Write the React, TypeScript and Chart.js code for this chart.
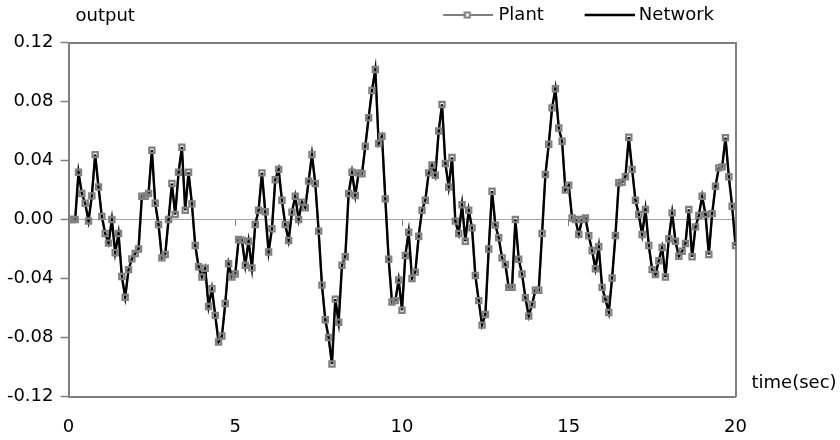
import React, { useEffect, useRef } from 'react';
import { Chart, registerables } from 'chart.js';

Chart.register(...registerables);

// ---------------- data ----------------
const timeSec = [
  0, 0.1, 0.2, 0.3, 0.4, 0.5, 0.6, 0.7, 0.8, 0.9,
  1, 1.1, 1.2, 1.3, 1.4, 1.5, 1.6, 1.7, 1.8, 1.9,
  2, 2.1, 2.2, 2.3, 2.4, 2.5, 2.6, 2.7, 2.8, 2.9,
  3, 3.1, 3.2, 3.3, 3.4, 3.5, 3.6, 3.7, 3.8, 3.9,
  4, 4.1, 4.2, 4.3, 4.4, 4.5, 4.6, 4.7, 4.8, 4.9,
  5, 5.1, 5.2, 5.3, 5.4, 5.5, 5.6, 5.7, 5.8, 5.9,
  6, 6.1, 6.2, 6.3, 6.4, 6.5, 6.6, 6.7, 6.8, 6.9,
  7, 7.1, 7.2, 7.3, 7.4, 7.5, 7.6, 7.7, 7.8, 7.9,
  8, 8.1, 8.2, 8.3, 8.4, 8.5, 8.6, 8.7, 8.8, 8.9,
  9, 9.1, 9.2, 9.3, 9.4, 9.5, 9.6, 9.7, 9.8, 9.9,
  10, 10.1, 10.2, 10.3, 10.4, 10.5, 10.6, 10.7, 10.8, 10.9,
  11, 11.1, 11.2, 11.3, 11.4, 11.5, 11.6, 11.7, 11.8, 11.9,
  12, 12.1, 12.2, 12.3, 12.4, 12.5, 12.6, 12.7, 12.8, 12.9,
  13, 13.1, 13.2, 13.3, 13.4, 13.5, 13.6, 13.7, 13.8, 13.9,
  14, 14.1, 14.2, 14.3, 14.4, 14.5, 14.6, 14.7, 14.8, 14.9,
  15, 15.1, 15.2, 15.3, 15.4, 15.5, 15.6, 15.7, 15.8, 15.9,
  16, 16.1, 16.2, 16.3, 16.4, 16.5, 16.6, 16.7, 16.8, 16.9,
  17, 17.1, 17.2, 17.3, 17.4, 17.5, 17.6, 17.7, 17.8, 17.9,
  18, 18.1, 18.2, 18.3, 18.4, 18.5, 18.6, 18.7, 18.8, 18.9,
  19, 19.1, 19.2, 19.3, 19.4, 19.5, 19.6, 19.7, 19.8, 19.9,
  20,
];

const plantOutput = [
  0, 0, 0, 0.032, 0.0176, 0.011, -0.001, 0.016, 0.044, 0.022,
  0.002, -0.0095, -0.016, 0, -0.0226, -0.0095, -0.0386, -0.0527, -0.034, -0.0267,
  -0.023, -0.02, 0.0158, 0.0158, 0.0176, 0.047, 0.011, -0.0034, -0.026, -0.0237,
  0, 0.0244, 0.0034, 0.032, 0.049, 0.0063, 0.032, 0.0106, -0.0176, -0.032,
  -0.039, -0.033, -0.059, -0.047, -0.065, -0.083, -0.079, -0.057, -0.03, -0.039,
  -0.037, -0.0136, -0.014, -0.031, -0.0147, -0.0328, -0.0034, 0.0063, 0.0316, 0.0052,
  -0.022, -0.0063, 0.027, 0.034, 0.013, -0.0034, -0.0142, 0.005, 0.0158, 0,
  0.0118, 0.008, 0.026, 0.044, 0.0244, -0.0079, -0.0445, -0.068, -0.08, -0.098,
  -0.054, -0.0696, -0.031, -0.0253, 0.0176, 0.032, 0.0163, 0.0316, 0.031, 0.0497,
  0.069, 0.0875, 0.1017, 0.0515, 0.0565, 0.014, -0.027, -0.056, -0.055, -0.041,
  -0.0615, -0.0244, -0.0086, -0.04, -0.0357, -0.0113, 0.0063, 0.013, 0.0316, 0.037,
  0.03, 0.06, 0.078, 0.038, 0.022, 0.042, -0.0011, -0.0095, 0.01, -0.0147,
  0.0063, -0.0057, -0.038, -0.055, -0.0716, -0.0644, -0.02, 0.0192, -0.0038, -0.0124,
  -0.026, -0.0305, -0.046, -0.046, 0, -0.027, -0.037, -0.053, -0.0655, -0.0576,
  -0.048, -0.048, -0.0095, 0.0305, 0.051, 0.0757, 0.0886, 0.062, 0.053, 0.02,
  0.0233, 0.001, 0, -0.01, 0, 0.001, -0.011, -0.021, -0.0334, -0.0185,
  -0.046, -0.054, -0.063, -0.0396, -0.0108, 0.0249, 0.0253, 0.029, 0.0558, 0.034,
  0.013, 0.0034, -0.0102, 0.0068, -0.0176, -0.034, -0.0373, -0.028, -0.019, -0.039,
  -0.013, 0.0045, -0.0147, -0.0249, -0.0215, -0.0163, 0.0068, -0.0253, -0.005, 0.0027,
  0.0158, 0.0034, -0.0237, 0.004, 0.0226, 0.035, 0.0357, 0.0554, 0.029, 0.009,
  -0.0176,
];

// The network output tracks the plant output point for point in the picture.
const networkOutput = plantOutput;

const seriesNames = ['Plant', 'Network'];
const xTickValues = [0, 5, 10, 15, 20];
const xTickLabels = ['0', '5', '10', '15', '20'];
const yTickValues = [-0.12, -0.08, -0.04, 0, 0.04, 0.08, 0.12];
const yTickLabels = ['-0.12', '-0.08', '-0.04', '0.00', '0.04', '0.08', '0.12'];
const yAxisTitle = 'output';
const xAxisTitle = 'time(sec)';

// ---------------- styles ----------------
const FONT_FAMILY = '"DejaVu Sans", sans-serif';
const FONT_SIZE = 18;
const GRAY = '#808080';
const ZERO_GRAY = '#a6a6a6';

function makeLegendIcon(
  w: number,
  h: number,
  lineFrom: number,
  lineTo: number,
  color: string,
  lineWidth: number,
  markerAt: number | null
): HTMLCanvasElement {
  const c = document.createElement('canvas');
  c.width = w;
  c.height = h;
  const g = c.getContext('2d')!;
  g.strokeStyle = color;
  g.lineWidth = lineWidth;
  g.beginPath();
  g.moveTo(lineFrom, h / 2);
  g.lineTo(lineTo, h / 2);
  g.stroke();
  if (markerAt !== null) {
    g.lineWidth = 2;
    g.clearRect(markerAt - 1.5, h / 2 - 1.5, 3, 3);
    g.strokeRect(markerAt - 2.55, h / 2 - 2.55, 5.1, 5.1);
  }
  return c;
}

const captionPlugin = {
  id: 'captions',
  afterDraw(chart: any) {
    const { ctx, chartArea } = chart;
    ctx.save();
    ctx.font = `${FONT_SIZE}px ${FONT_FAMILY}`;
    ctx.fillStyle = '#000';
    ctx.textAlign = 'left';
    ctx.textBaseline = 'alphabetic';
    ctx.fillText(yAxisTitle, chartArea.left + 7, 21);
    ctx.fillText(xAxisTitle, chartArea.right + 16, 388);
    ctx.restore();
  },
};

export default function App() {
  const canvasRef = useRef<HTMLCanvasElement>(null);

  useEffect(() => {
    const canvas = canvasRef.current;
    if (!canvas) return;

    const plantIcon = makeLegendIcon(72, 12, 22, 72, GRAY, 2, 46);
    const networkIcon = makeLegendIcon(74, 12, 24, 74, '#000', 2.4, null);
    const font = { family: FONT_FAMILY, size: FONT_SIZE };

    const chart = new Chart(canvas, {
      type: 'line',
      data: {
        labels: timeSec,
        datasets: [
          {
            label: seriesNames[0],
            data: plantOutput,
            borderColor: GRAY,
            borderWidth: 2,
            pointRadius: 0,
            tension: 0,
            order: 3,
            xAxisID: 'x',
            yAxisID: 'y',
          },
          {
            label: seriesNames[1],
            data: networkOutput,
            borderColor: '#000',
            borderWidth: 2.4,
            pointRadius: 0,
            tension: 0,
            order: 2,
            xAxisID: 'x',
            yAxisID: 'y',
          },
          {
            label: seriesNames[0] + ' markers',
            data: plantOutput,
            showLine: false,
            pointStyle: 'rect',
            pointRadius: 3.7,
            pointBorderWidth: 2.2,
            pointBorderColor: GRAY,
            pointBackgroundColor: 'rgba(0,0,0,0)',
            order: 1,
            xAxisID: 'x',
            yAxisID: 'y',
          },
        ],
      },
      options: {
        responsive: false,
        animation: false,
        devicePixelRatio: 1,
        events: [],
        layout: { padding: { top: -15.5, left: 0, right: 0, bottom: 0 } },
        plugins: {
          tooltip: { enabled: false },
          title: { display: false },
          legend: {
            display: true,
            position: 'top',
            align: 'end',
            fullSize: false,
            labels: {
              usePointStyle: true,
              pointStyleWidth: 64.5,
              padding: 21.5,
              font,
              color: '#000',
              generateLabels: () => [
                {
                  text: seriesNames[0],
                  pointStyle: plantIcon,
                  fillStyle: 'rgba(0,0,0,0)',
                  strokeStyle: 'rgba(0,0,0,0)',
                  fontColor: '#000',
                  lineWidth: 0,
                  hidden: false,
                  datasetIndex: 0,
                },
                {
                  text: seriesNames[1],
                  pointStyle: networkIcon,
                  fillStyle: 'rgba(0,0,0,0)',
                  strokeStyle: 'rgba(0,0,0,0)',
                  fontColor: '#000',
                  lineWidth: 0,
                  hidden: false,
                  datasetIndex: 1,
                },
              ],
            },
          },
        },
        scales: {
          x: {
            type: 'linear',
            position: 'bottom',
            min: 0,
            max: 20,
            afterBuildTicks: (s: any) => {
              s.ticks = xTickValues.map((value) => ({ value }));
            },
            ticks: {
              callback: (_v: any, i: number) => xTickLabels[i],
              font,
              color: '#000',
              padding: 20,
              maxRotation: 0,
              autoSkip: false,
            },
            grid: { display: true, drawOnChartArea: false, drawTicks: false },
            border: { display: true, color: GRAY, width: 2 },
            afterFit: (s: any) => {
              s.height = 43.5;
            },
          },
          y: {
            type: 'linear',
            position: 'left',
            min: -0.12,
            max: 0.12,
            afterBuildTicks: (s: any) => {
              s.ticks = yTickValues.map((value) => ({ value }));
            },
            ticks: {
              callback: (_v: any, i: number) => yTickLabels[i],
              font,
              color: '#000',
              padding: 7,
              autoSkip: false,
            },
            grid: {
              display: true,
              drawOnChartArea: false,
              drawTicks: true,
              tickLength: 8,
              tickColor: GRAY,
              tickWidth: 1.5,
            },
            border: { display: true, color: GRAY, width: 2 },
            afterFit: (s: any) => {
              s.width = 68.5;
            },
          },
          x2: {
            type: 'linear',
            axis: 'x',
            position: 'top',
            min: 0,
            max: 20,
            ticks: { display: false },
            grid: { display: true, drawOnChartArea: false, drawTicks: false },
            border: { display: true, color: GRAY, width: 2 },
            afterFit: (s: any) => {
              s.height = 8.5;
            },
          },
          y2: {
            type: 'linear',
            axis: 'y',
            position: 'right',
            min: -0.12,
            max: 0.12,
            ticks: { display: false },
            grid: { display: true, drawOnChartArea: false, drawTicks: false },
            border: { display: true, color: GRAY, width: 2 },
            afterFit: (s: any) => {
              s.width = 104.5;
            },
          },
          xz: {
            type: 'linear',
            axis: 'x',
            position: { y: 0 },
            min: 0,
            max: 20,
            afterBuildTicks: (s: any) => {
              s.ticks = xTickValues.map((value) => ({ value }));
            },
            ticks: { display: false },
            grid: {
              display: true,
              drawOnChartArea: false,
              drawTicks: true,
              tickLength: 6,
              tickColor: GRAY,
              tickWidth: 1,
            },
            border: { display: true, color: ZERO_GRAY, width: 1 },
          },
        },
      } as any,
      plugins: [captionPlugin],
    });

    return () => {
      chart.destroy();
    };
  }, []);

  return (
    <div
      style={{
        position: 'fixed',
        left: 0,
        top: 0,
        width: 840,
        height: 440,
        background: '#fff',
      }}
    >
      <canvas
        ref={canvasRef}
        width={840}
        height={440}
        style={{ display: 'block', width: 840, height: 440 }}
      />
    </div>
  );
}
